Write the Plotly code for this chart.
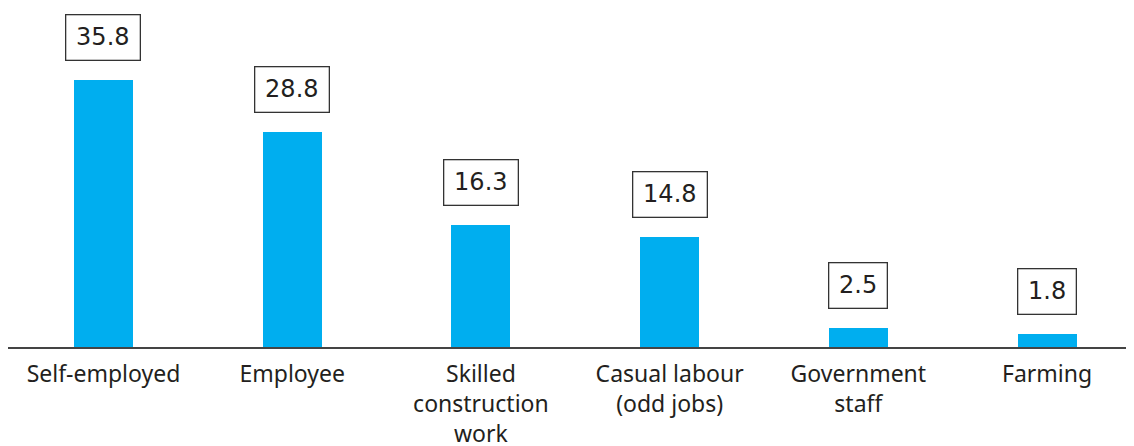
import plotly.graph_objects as go

categories = ["Self-employed", "Employee", "Skilled<br>construction<br>work",
              "Casual labour<br>(odd jobs)", "Government<br>staff", "Farming"]
values = [35.8, 28.8, 16.3, 14.8, 2.5, 1.8]
value_labels = ["35.8", "28.8", "16.3", "14.8", "2.5", "1.8"]

x_idx = list(range(len(categories)))

fig = go.Figure()
fig.add_trace(go.Bar(
    x=x_idx, y=values, width=0.313,
    marker=dict(color="#00AEEF", line=dict(width=0)),
    hoverinfo="skip",
))

for i, (v, lab) in enumerate(zip(values, value_labels)):
    fig.add_annotation(
        x=i, y=v, xref="x", yref="y",
        text="\u2009" + lab + "\u2009",
        showarrow=False, yanchor="bottom", yshift=19,
        height=34, valign="middle",
        font=dict(family="DejaVu Sans", size=24, color="#231F20"),
        bordercolor="#333333", borderwidth=1.3, borderpad=5,
        bgcolor="white",
    )

fig.update_layout(
    width=1134, height=446,
    margin=dict(l=0, r=0, t=0, b=107),
    paper_bgcolor="white", plot_bgcolor="white",
    showlegend=False,
    bargap=0,
    xaxis=dict(
        range=[-0.506, 5.503],
        tickmode="array", tickvals=x_idx, ticktext=categories,
        showgrid=False, zeroline=False,
        showline=True, linecolor="#444444", linewidth=1.5,
        ticks="", automargin=False, ticklabelstandoff=6,
        tickfont=dict(family="Noto Sans", size=23, color="#231F20"),
        fixedrange=True,
    ),
    yaxis=dict(
        range=[0, 45.45], visible=False, showgrid=False, zeroline=False,
        fixedrange=True,
    ),
)

fig.write_html("out.html")
